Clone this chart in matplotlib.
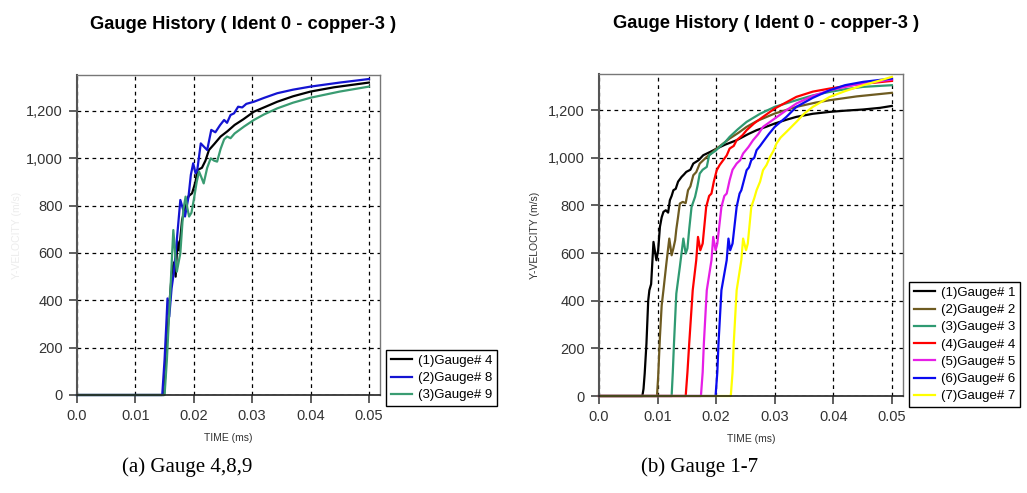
import numpy as np
import matplotlib.pyplot as plt

# ---- data (a) Gauge 4,8,9 ----
t_a4 = [0, 0.0149, 0.0152, 0.0154, 0.0158, 0.0163, 0.0166, 0.0169, 0.0172, 0.0175, 0.0180,
        0.0186, 0.0191, 0.0197, 0.0203, 0.0206, 0.0214, 0.0220, 0.0226, 0.0235, 0.0246,
        0.0258, 0.0270, 0.0285, 0.0303, 0.0325, 0.0343, 0.0370, 0.0400, 0.0440, 0.0500]
v_a4 = [0, 0, 120, 220, 380, 530, 560, 500, 650, 610, 740, 800, 840, 852, 900, 950, 960,
        990, 1035, 1060, 1092, 1115, 1141, 1165, 1197, 1220, 1239, 1262, 1282, 1300, 1320]

t_a8 = [0, 0.0146, 0.0150, 0.0153, 0.0155, 0.0158, 0.0162, 0.0166, 0.0171, 0.0177, 0.0181,
        0.0185, 0.0191, 0.0195, 0.0199, 0.0203, 0.0206, 0.0212, 0.0217, 0.0223, 0.0230,
        0.0237, 0.0245, 0.0252, 0.0257, 0.0263, 0.0269, 0.0276, 0.0283, 0.0290, 0.0303,
        0.0320, 0.0343, 0.0370, 0.0400, 0.0450, 0.0500]
v_a8 = [0, 0, 150, 300, 408, 331, 450, 520, 655, 824, 790, 754, 838, 930, 979, 937, 950,
        1063, 1050, 1035, 1120, 1110, 1140, 1162, 1150, 1183, 1190, 1218, 1215, 1230, 1239,
        1255, 1275, 1290, 1303, 1320, 1335]

t_a9 = [0, 0.0150, 0.0154, 0.0157, 0.0160, 0.0163, 0.0165, 0.0168, 0.0171, 0.0174, 0.0177,
        0.0182, 0.0186, 0.0189, 0.0192, 0.0196, 0.0200, 0.0205, 0.0209, 0.0213, 0.0217,
        0.0223, 0.0229, 0.0235, 0.0240, 0.0246, 0.0252, 0.0257, 0.0263, 0.0270, 0.0286,
        0.0303, 0.0320, 0.0343, 0.0370, 0.0400, 0.0450, 0.0500]
v_a9 = [0, 0, 150, 300, 444, 600, 697, 600, 521, 560, 599, 780, 838, 790, 754, 770, 824,
        900, 944, 920, 894, 960, 1000, 990, 986, 1040, 1080, 1092, 1085, 1105, 1134, 1162,
        1185, 1211, 1235, 1256, 1282, 1303]

# ---- data (b) Gauge 1-7 ----
t_b1 = [0, 0.0074, 0.0076, 0.0078, 0.0081, 0.0084, 0.0086, 0.0089, 0.0093, 0.0096, 0.0098,
        0.0101, 0.0104, 0.0107, 0.0110, 0.0114, 0.0118, 0.0121, 0.0124, 0.0127, 0.0131,
        0.0135, 0.0141, 0.0145, 0.0149, 0.0156, 0.0161, 0.0170, 0.0178, 0.0190, 0.0201,
        0.0215, 0.0235, 0.0255, 0.0269, 0.0285, 0.0300, 0.0320, 0.0337, 0.0365, 0.0394,
        0.0420, 0.0451, 0.0480, 0.0500]
v_b1 = [0, 0, 30, 94, 220, 400, 444, 470, 647, 600, 570, 612, 710, 750, 773, 780, 770, 822,
        840, 864, 870, 900, 920, 930, 941, 950, 976, 990, 1011, 1025, 1039, 1055, 1074, 1100,
        1116, 1130, 1144, 1160, 1172, 1185, 1193, 1198, 1203, 1210, 1218]

t_b2 = [0, 0.0099, 0.0101, 0.0104, 0.0107, 0.0110, 0.0115, 0.0120, 0.0124, 0.0127, 0.0130,
        0.0132, 0.0135, 0.0138, 0.0143, 0.0148, 0.0152, 0.0156, 0.0161, 0.0166, 0.0172,
        0.0178, 0.0184, 0.0192, 0.0201, 0.0212, 0.0223, 0.0238, 0.0252, 0.0270, 0.0300,
        0.0337, 0.0370, 0.0394, 0.0440, 0.0500]
v_b2 = [0, 0, 80, 248, 380, 444, 556, 661, 591, 620, 654, 700, 752, 808, 815, 810, 864, 880,
        927, 940, 976, 990, 1004, 1020, 1039, 1060, 1081, 1105, 1130, 1155, 1186, 1214, 1232,
        1242, 1258, 1273]

t_b3 = [0, 0.0124, 0.0126, 0.0128, 0.0132, 0.0138, 0.0144, 0.0148, 0.0151, 0.0154, 0.0158,
        0.0164, 0.0168, 0.0172, 0.0177, 0.0184, 0.0188, 0.0192, 0.0199, 0.0206, 0.0215,
        0.0223, 0.0237, 0.0252, 0.0275, 0.0300, 0.0337, 0.0365, 0.0394, 0.0420, 0.0451, 0.0500]
v_b3 = [0, 0, 100, 220, 430, 542, 661, 598, 620, 700, 794, 836, 880, 934, 950, 962, 1010,
        1018, 1030, 1046, 1065, 1088, 1120, 1151, 1185, 1214, 1242, 1262, 1277, 1288, 1298, 1305]

t_b4 = [0, 0.0148, 0.0151, 0.0154, 0.0160, 0.0166, 0.0169, 0.0173, 0.0177, 0.0183, 0.0188,
        0.0192, 0.0196, 0.0201, 0.0206, 0.0212, 0.0218, 0.0223, 0.0230, 0.0235, 0.0245,
        0.0252, 0.0265, 0.0280, 0.0300, 0.0337, 0.0365, 0.0394, 0.0440, 0.0500]
v_b4 = [0, 0, 100, 220, 444, 570, 668, 612, 640, 794, 840, 850, 900, 948, 970, 990, 1010,
        1039, 1050, 1074, 1095, 1116, 1145, 1172, 1207, 1256, 1278, 1291, 1308, 1323]

t_b5 = [0, 0.0174, 0.0177, 0.0179, 0.0184, 0.0192, 0.0195, 0.0199, 0.0202, 0.0209, 0.0214,
        0.0218, 0.0223, 0.0228, 0.0235, 0.0241, 0.0246, 0.0255, 0.0263, 0.0272, 0.0280,
        0.0300, 0.0320, 0.0337, 0.0365, 0.0394, 0.0440, 0.0500]
v_b5 = [0, 0, 100, 220, 444, 570, 668, 612, 640, 794, 840, 850, 906, 950, 976, 990, 1018,
        1045, 1074, 1100, 1130, 1165, 1200, 1228, 1260, 1284, 1308, 1329]

t_b6 = [0, 0.0199, 0.0202, 0.0204, 0.0209, 0.0218, 0.0221, 0.0224, 0.0228, 0.0235, 0.0240,
        0.0243, 0.0252, 0.0256, 0.0260, 0.0265, 0.0269, 0.0275, 0.0280, 0.0290, 0.0300,
        0.0320, 0.0337, 0.0365, 0.0394, 0.0420, 0.0451, 0.0500]
v_b6 = [0, 0, 100, 220, 444, 570, 661, 612, 640, 794, 850, 864, 948, 960, 990, 1000, 1032,
        1050, 1067, 1100, 1130, 1172, 1214, 1252, 1284, 1305, 1319, 1333]

t_b7 = [0, 0.0225, 0.0228, 0.0230, 0.0235, 0.0243, 0.0246, 0.0251, 0.0254, 0.0260, 0.0265,
        0.0269, 0.0275, 0.0280, 0.0286, 0.0292, 0.0298, 0.0303, 0.0310, 0.0320, 0.0337,
        0.0350, 0.0365, 0.0394, 0.0420, 0.0451, 0.0480, 0.0500]
v_b7 = [0, 0, 100, 220, 444, 570, 661, 612, 640, 794, 830, 864, 900, 948, 970, 1004, 1030,
        1060, 1085, 1109, 1151, 1185, 1214, 1256, 1280, 1305, 1325, 1340]

labels_a = ["(1)Gauge# 4", "(2)Gauge# 8", "(3)Gauge# 9"]
labels_b = ["(1)Gauge# 1", "(2)Gauge# 2", "(3)Gauge# 3", "(4)Gauge# 4",
            "(5)Gauge# 5", "(6)Gauge# 6", "(7)Gauge# 7"]

colors_a = ["#000000", "#1414d2", "#3a9c72"]
colors_b = ["#000000", "#6e5b21", "#2f9a72", "#ff0000", "#e61ee6", "#0a0af0", "#ffff00"]

plt.rcParams["font.family"] = ["Liberation Sans", "DejaVu Sans"]

fig = plt.figure(figsize=(10.27, 4.93), dpi=100)
ax_a = fig.add_axes([77 / 1027, 1 - 395 / 493, 303 / 1027, 320 / 493])
ax_b = fig.add_axes([599 / 1027, 1 - 396 / 493, 304 / 1027, 322 / 493])


def style(ax):
    ax.set_xlim(0, 0.0519)
    ax.set_ylim(0, 1352)
    ax.set_xticks([0, 0.01, 0.02, 0.03, 0.04, 0.05])
    ax.set_xticklabels(["0.0", "0.01", "0.02", "0.03", "0.04", "0.05"])
    ax.set_yticks([0, 200, 400, 600, 800, 1000, 1200])
    ax.set_yticklabels(["0", "200", "400", "600", "800", "1,000", "1,200"])
    ax.tick_params(direction="out", length=6, width=1.2, color="#444444",
                   labelsize=10.5, labelcolor="#333333", pad=4)
    ax.grid(True, color="black", linestyle=(0, (3, 3)), linewidth=0.9)
    for s in ["top", "right"]:
        ax.spines[s].set_color("#777777")
        ax.spines[s].set_linewidth(1.0)
    ax.spines["left"].set_color("#555555")
    ax.spines["left"].set_linewidth(1.5)
    ax.spines["bottom"].set_color("#222222")
    ax.spines["bottom"].set_linewidth(1.2)
    ax.set_xlabel("TIME (ms)", fontsize=7.5, color="#333333", labelpad=7)
    ax.set_title("Gauge History ( Ident 0 - copper-3 )", fontsize=13.2,
                 fontweight="bold", pad=33, x=0.548)


series_a = [(t_a4, v_a4), (t_a8, v_a8), (t_a9, v_a9)]
for (t, v), c, lab in zip(series_a, colors_a, labels_a):
    ax_a.plot(t, v, color=c, lw=1.6, label=lab, clip_on=False)
style(ax_a)
# y label is only a faint ghost in panel (a)
ax_a.set_ylabel("Y-VELOCITY (m/s)", fontsize=7.5, color="#ececec")
ax_a.yaxis.set_label_coords(-0.18, 0.5)

series_b = [(t_b1, v_b1), (t_b2, v_b2), (t_b3, v_b3), (t_b4, v_b4),
            (t_b5, v_b5), (t_b6, v_b6), (t_b7, v_b7)]
for (t, v), c, lab in zip(series_b, colors_b, labels_b):
    ax_b.plot(t, v, color=c, lw=1.6, label=lab, clip_on=False)
style(ax_b)
ax_b.set_ylabel("Y-VELOCITY (m/s)", fontsize=7.5, color="#333333")
ax_b.yaxis.set_label_coords(-0.194, 0.5)

for ax, x0, y0 in [(ax_a, 386, 406), (ax_b, 909, 407)]:
    leg = ax.legend(loc="lower left", bbox_to_anchor=(x0 / 1027, 1 - y0 / 493),
                    bbox_transform=fig.transFigure, borderaxespad=0, fontsize=9.5,
                    fancybox=False, framealpha=1, edgecolor="black",
                    handlelength=1.6, handletextpad=0.5, labelspacing=0.38,
                    borderpad=0.35)
    leg.get_frame().set_linewidth(1.0)

fig.text(187 / 1027, 1 - 467 / 493, "(a) Gauge 4,8,9", family="Liberation Serif",
         fontsize=15, ha="center", va="center")
fig.text(700 / 1027, 1 - 467 / 493, "(b) Gauge 1-7", family="Liberation Serif",
         fontsize=15, ha="center", va="center")

fig.savefig("out.png", dpi=100)
